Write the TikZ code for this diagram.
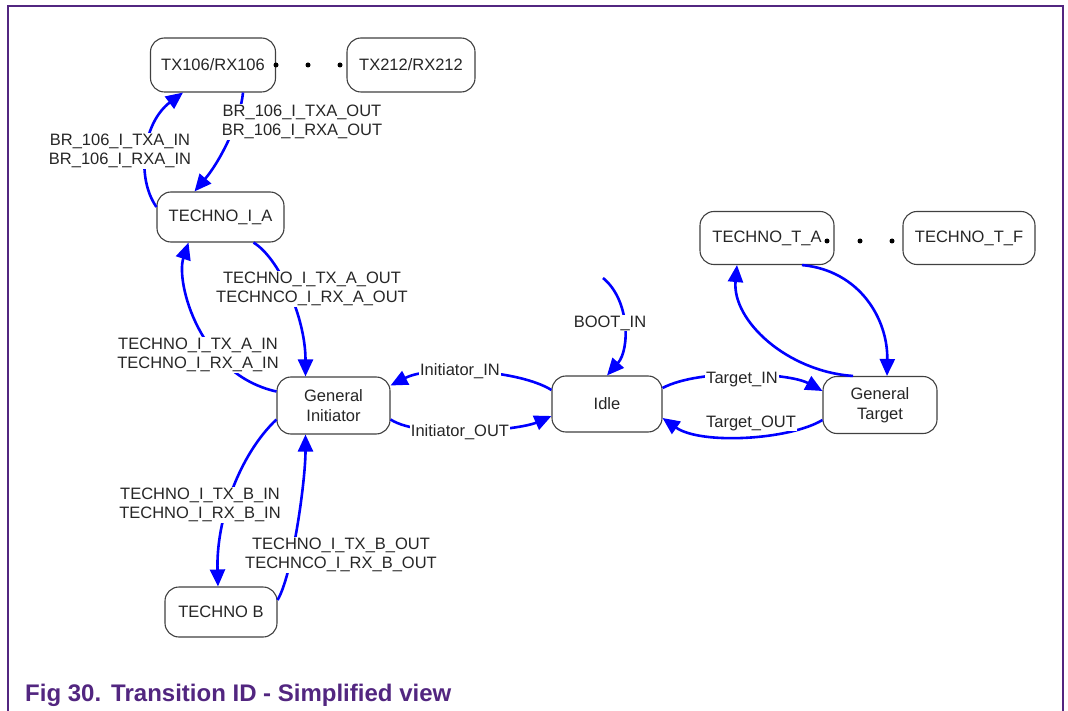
\documentclass[tikz,border=0pt]{standalone}
\usepackage{fontspec}
\setmainfont{Liberation Sans}
\usetikzlibrary{arrows.meta,calc}
\definecolor{nxp}{RGB}{82,38,128}
\begin{document}
\begin{tikzpicture}[x=1pt,y=-1pt,
  state/.style={draw=black!75, line width=1.1pt, rounded corners=14pt, fill=white,
    font=\fontsize{16.5}{19.5}\selectfont, align=center, inner sep=0pt, text=black!85},
  lbl/.style={fill=white, inner sep=1pt, font=\fontsize{16.5}{19.5}\selectfont, align=center, text=black!85},
  tr/.style={draw=blue, line width=2.6pt, -{Triangle[length=17pt,width=15pt]}},
  dotc/.style={circle, fill=black, inner sep=0pt, minimum size=5pt}]
\useasboundingbox (0,0) rectangle (1068,711);
% frame
\draw[nxp, line width=1.8pt] (8,711) -- (8,6) -- (1063,6) -- (1063,711);
% states
\node[state, minimum width=125pt, minimum height=54pt] (tx106) at (213,65) {TX106/RX106};
\node[state, minimum width=128pt, minimum height=54pt] (tx212) at (411,65) {TX212/RX212};
\node[state, minimum width=127pt, minimum height=50pt] (tia) at (220.5,217) {TECHNO\_I\_A};
\node[state, minimum width=113pt, minimum height=57pt] (gi) at (333.5,405.5) {General\\Initiator};
\node[state, minimum width=112pt, minimum height=50pt] (tb) at (221,612) {TECHNO B};
\node[state, minimum width=110pt, minimum height=56pt] (idle) at (607,404) {Idle};
\node[state, minimum width=114pt, minimum height=57pt] (gt) at (880,405) {General\\Target};
\node[state, minimum width=134pt, minimum height=53pt] (tta) at (767,238) {TECHNO\_T\_A};
\node[state, minimum width=132pt, minimum height=53pt] (ttf) at (969,238) {TECHNO\_T\_F};
% dots
\node[dotc] (d1) at (276,65) {};
\node[dotc] (d2) at (308,65) {};
\node[dotc] (d3) at (340,65) {};
\node[dotc] (d4) at (827,241) {};
\node[dotc] (d5) at (860,241) {};
\node[dotc] (d6) at (892,241) {};
\coordinate (boot) at (603,278);
% transitions
\draw[tr] ($(tia.west)+(0,-10)$) .. controls +(-21,-30) and +(-40,30) .. ($(tx106.south)+(-30,0)$);
\draw[tr] ($(tx106.south)+(30,0)$) .. controls +(-3,30) and +(25,-29.5) .. ($(tia.north)+(-26,0)$);
\draw[tr] ($(tia.south)+(33,0)$) .. controls +(25,15) and +(0,-60) .. ($(gi.north)+(-28,0)$);
\draw[tr] ($(gi.west)+(0,-14)$) .. controls +(-77,-17) and +(-13,39.5) .. ($(tia.south)+(-32,0)$);
\draw[tr] ($(gi.west)+(0,14)$) .. controls +(-37,35) and +(-2,-67) .. ($(tb.north)+(-3,0)$);
\draw[tr] ($(tb.east)+(0,-12)$) .. controls +(15,-25) and +(0,46) .. ($(gi.south)+(-28,0)$);
\draw[tr] ($(idle.west)+(0,-14)$) .. controls +(-32,-20) and +(41,-21) .. ($(gi.east)+(0,-20)$);
\draw[tr] ($(gi.east)+(0,14)$) .. controls +(31,20) and +(-32,14) .. ($(idle.west)+(0,12)$);
\draw[tr] (boot) .. controls +(27,22) and +(23,-26) .. (idle.north);
\draw[tr] ($(idle.east)+(0,-16)$) .. controls +(38,-20) and +(-33,-18) .. ($(gt.west)+(0,-14)$);
\draw[tr] ($(gt.west)+(0,15)$) .. controls +(-33,20) and +(38,27) .. ($(idle.east)+(0,14)$);
\draw[tr] ($(gt.north)+(-27,0)$) .. controls +(-66,-4.5) and +(-5,55.5) .. ($(tta.south)+(-30,0)$);
\draw[tr] ($(tta.south)+(35,0)$) .. controls +(58,5.5) and +(1,-56.5) .. ($(gt.north)+(7,0)$);
% labels
\node[lbl] (l1) at (120,151) {BR\_106\_I\_TXA\_IN\\BR\_106\_I\_RXA\_IN};
\node[lbl] (l2) at (302,122) {BR\_106\_I\_TXA\_OUT\\BR\_106\_I\_RXA\_OUT};
\node[lbl] (l3) at (312,289) {TECHNO\_I\_TX\_A\_OUT\\TECHNCO\_I\_RX\_A\_OUT};
\node[lbl] (l4) at (198,355) {TECHNO\_I\_TX\_A\_IN\\TECHNO\_I\_RX\_A\_IN};
\node[lbl] (l5) at (200,505) {TECHNO\_I\_TX\_B\_IN\\TECHNO\_I\_RX\_B\_IN};
\node[lbl] (l6) at (341,555) {TECHNO\_I\_TX\_B\_OUT\\TECHNCO\_I\_RX\_B\_OUT};
\node[lbl] (l7) at (460,371) {Initiator\_IN};
\node[lbl] (l8) at (460,432) {Initiator\_OUT};
\node[lbl] (l9) at (610,323) {BOOT\_IN};
\node[lbl] (l10) at (742,380) {Target\_IN};
\node[lbl] (l11) at (751,423) {Target\_OUT};
% caption
\node[anchor=base west, inner sep=0pt, text=nxp, font=\fontsize{24}{28}\selectfont\bfseries] (cap) at (25,701) {Fig 30.\hspace{10pt}Transition ID - Simplified view};
\end{tikzpicture}
\end{document}
